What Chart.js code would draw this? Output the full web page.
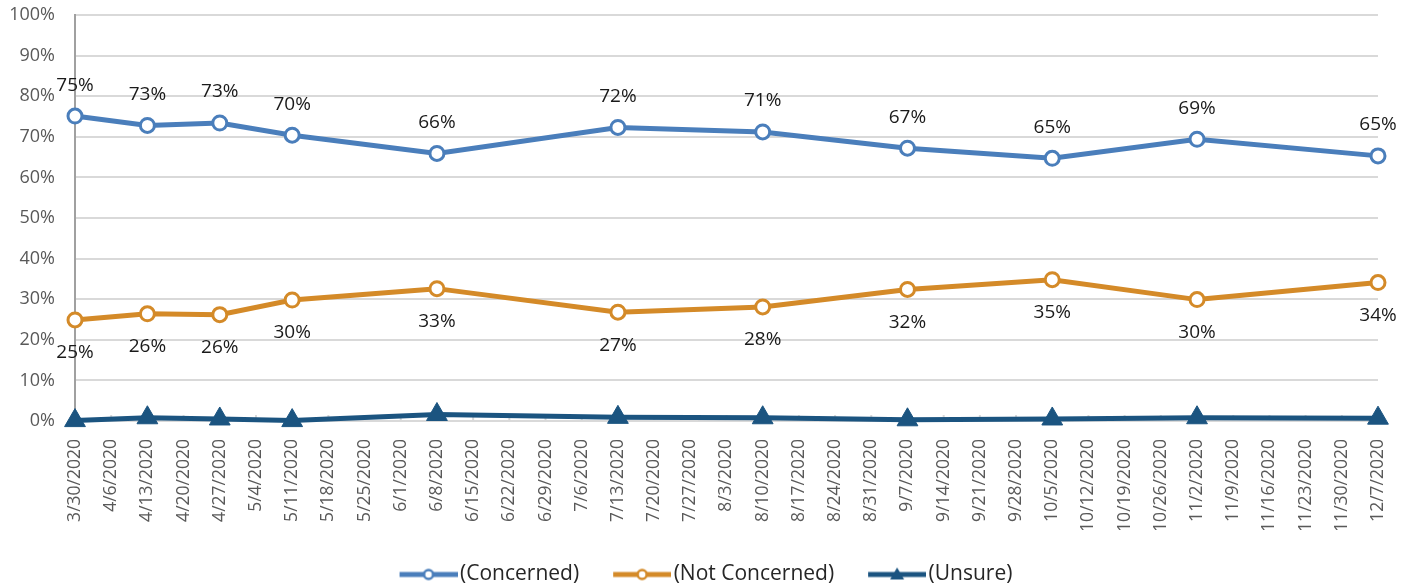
<!DOCTYPE html>
<html>
<head>
<meta charset="utf-8">
<script src="https://cdn.jsdelivr.net/npm/chart.js@4.4.1/dist/chart.umd.min.js"></script>
<style>
  html, body { margin: 0; padding: 0; background: #fff; }
  #wrap { width: 1412px; height: 586px; }
</style>
</head>
<body>
<div id="wrap"><canvas id="grafico"></canvas></div>
<script>
// Etiquetas semanales del eje X
const semanas = [
  '3/30/2020', '4/6/2020', '4/13/2020', '4/20/2020', '4/27/2020', '5/4/2020',
  '5/11/2020', '5/18/2020', '5/25/2020', '6/1/2020', '6/8/2020', '6/15/2020',
  '6/22/2020', '6/29/2020', '7/6/2020', '7/13/2020', '7/20/2020', '7/27/2020',
  '8/3/2020', '8/10/2020', '8/17/2020', '8/24/2020', '8/31/2020', '9/7/2020',
  '9/14/2020', '9/21/2020', '9/28/2020', '10/5/2020', '10/12/2020', '10/19/2020',
  '10/26/2020', '11/2/2020', '11/9/2020', '11/16/2020', '11/23/2020', '11/30/2020',
  '12/7/2020'
];

// Fechas de encuesta
const fechas = [
  '3/30/2020', '4/13/2020', '4/27/2020', '5/11/2020', '6/8/2020', '7/13/2020',
  '8/10/2020', '9/7/2020', '10/5/2020', '11/2/2020', '12/7/2020'
];

const concerned    = [75.1, 72.8, 73.4, 70.4, 65.9, 72.3, 71.2, 67.2, 64.7, 69.4, 65.3];
const notConcerned = [24.9, 26.4, 26.2, 29.8, 32.6, 26.8, 28.1, 32.4, 34.8, 29.9, 34.1];
const unsure       = [0.1, 0.8, 0.5, 0.1, 1.6, 0.9, 0.8, 0.3, 0.5, 0.8, 0.7];

const AZUL = '#4a7ebb';
const NARANJA = '#d48a28';
const AZUL_OSC = '#1b5480';

const puntos = vals => fechas.map((f, i) => ({ x: f, y: vals[i] }));

// Icono de leyenda: línea con marcador
function iconoLeyenda(color, tipo) {
  const c = document.createElement('canvas');
  c.width = 66; c.height = 18;
  const ctx = c.getContext('2d');
  ctx.strokeStyle = color;
  ctx.lineWidth = 5;
  ctx.beginPath();
  ctx.moveTo(8, 9); ctx.lineTo(66, 9);
  ctx.stroke();
  if (tipo === 'circle') {
    ctx.beginPath();
    ctx.arc(37, 9, 4.5, 0, Math.PI * 2);
    ctx.fillStyle = '#fff';
    ctx.fill();
    ctx.lineWidth = 2.5;
    ctx.stroke();
  } else {
    ctx.beginPath();
    ctx.moveTo(37, 2); ctx.lineTo(44, 14); ctx.lineTo(30, 14);
    ctx.closePath();
    ctx.fillStyle = color;
    ctx.fill();
  }
  return c;
}

// Plugin para etiquetas de datos y marcas del eje X
const etiquetasPlugin = {
  id: 'etiquetas',
  beforeDatasetsDraw(chart) {
    const ctx = chart.ctx;
    const x = chart.scales.x;
    const y0 = chart.scales.y.getPixelForValue(0);
    ctx.save();
    ctx.strokeStyle = '#d9d9d9';
    ctx.lineWidth = 2;
    semanas.forEach((s, i) => {
      const px = x.getPixelForValue(i);
      ctx.beginPath();
      ctx.moveTo(px, y0 - 6);
      ctx.lineTo(px, y0);
      ctx.stroke();
    });
    ctx.restore();
  },
  afterDatasetsDraw(chart) {
    const ctx = chart.ctx;
    ctx.save();
    ctx.font = '19px "Open Sans"';
    ctx.fillStyle = '#1a1a1a';
    ctx.textAlign = 'center';
    ctx.textBaseline = 'middle';
    [0, 1].forEach(di => {
      const meta = chart.getDatasetMeta(di);
      const off = di === 0 ? -31 : 33;
      meta.data.forEach((p, i) => {
        const v = chart.data.datasets[di].data[i].y;
        ctx.fillText(Math.round(v) + '%', p.x, p.y + off);
      });
    });
    ctx.restore();
  }
};

const config = {
  type: 'line',
  data: {
    labels: semanas,
    datasets: [
      {
        label: '(Concerned)',
        data: puntos(concerned),
        borderColor: AZUL,
        backgroundColor: '#fff',
        borderWidth: 5,
        pointRadius: 7,
        pointBorderWidth: 3,
        pointBackgroundColor: '#fff',
        pointBorderColor: AZUL,
        tension: 0,
        clip: false,
        legendIcon: iconoLeyenda(AZUL, 'circle')
      },
      {
        label: '(Not Concerned)',
        data: puntos(notConcerned),
        borderColor: NARANJA,
        backgroundColor: '#fff',
        borderWidth: 5,
        pointRadius: 7,
        pointBorderWidth: 3,
        pointBackgroundColor: '#fff',
        pointBorderColor: NARANJA,
        tension: 0,
        clip: false,
        legendIcon: iconoLeyenda(NARANJA, 'circle')
      },
      {
        label: '(Unsure)',
        data: puntos(unsure),
        borderColor: AZUL_OSC,
        backgroundColor: AZUL_OSC,
        borderWidth: 5,
        pointStyle: 'triangle',
        pointRadius: 12,
        pointBorderWidth: 1,
        pointBackgroundColor: AZUL_OSC,
        pointBorderColor: AZUL_OSC,
        tension: 0,
        clip: false,
        legendIcon: iconoLeyenda(AZUL_OSC, 'triangle')
      }
    ]
  },
  options: {
    responsive: true,
    maintainAspectRatio: false,
    animation: false,
    layout: { autoPadding: false, padding: { left: 0, right: 0, top: 0, bottom: -9 } },
    scales: {
      x: {
        type: 'category',
        offset: false,
        grid: { display: false },
        border: { display: false },
        ticks: {
          autoSkip: false,
          minRotation: 90,
          maxRotation: 90,
          color: '#595959',
          padding: 10,
          font: { family: 'Open Sans', size: 17.5 }
        },
        afterFit(scale) { scale.height = 109; scale.paddingRight = 34; }
      },
      y: {
        min: 0,
        max: 100,
        ticks: {
          stepSize: 10,
          color: '#595959',
          padding: 20,
          font: { family: 'Open Sans', size: 18 },
          callback: v => v + '%'
        },
        grid: { color: '#d9d9d9', lineWidth: 2, drawTicks: false },
        border: { color: '#a0a0a0', width: 2 },
        afterFit(scale) { scale.width = 75; scale.paddingTop = 15; scale.paddingBottom = 10; }
      }
    },
    plugins: {
      tooltip: { enabled: false },
      legend: {
        position: 'bottom',
        labels: {
          usePointStyle: true,
          pointStyleWidth: 50,
          padding: 34,
          color: '#262626',
          font: { family: 'Open Sans', size: 21 },
          generateLabels(chart) {
            return chart.data.datasets.map((ds, i) => ({
              text: ds.label,
              pointStyle: ds.legendIcon,
              fillStyle: ds.borderColor,
              strokeStyle: ds.borderColor,
              lineWidth: 0,
              fontColor: '#262626',
              hidden: false,
              datasetIndex: i
            }));
          }
        }
      }
    }
  },
  plugins: [etiquetasPlugin]
};

new Chart(document.getElementById('grafico').getContext('2d'), config);
</script>
</body>
</html>
